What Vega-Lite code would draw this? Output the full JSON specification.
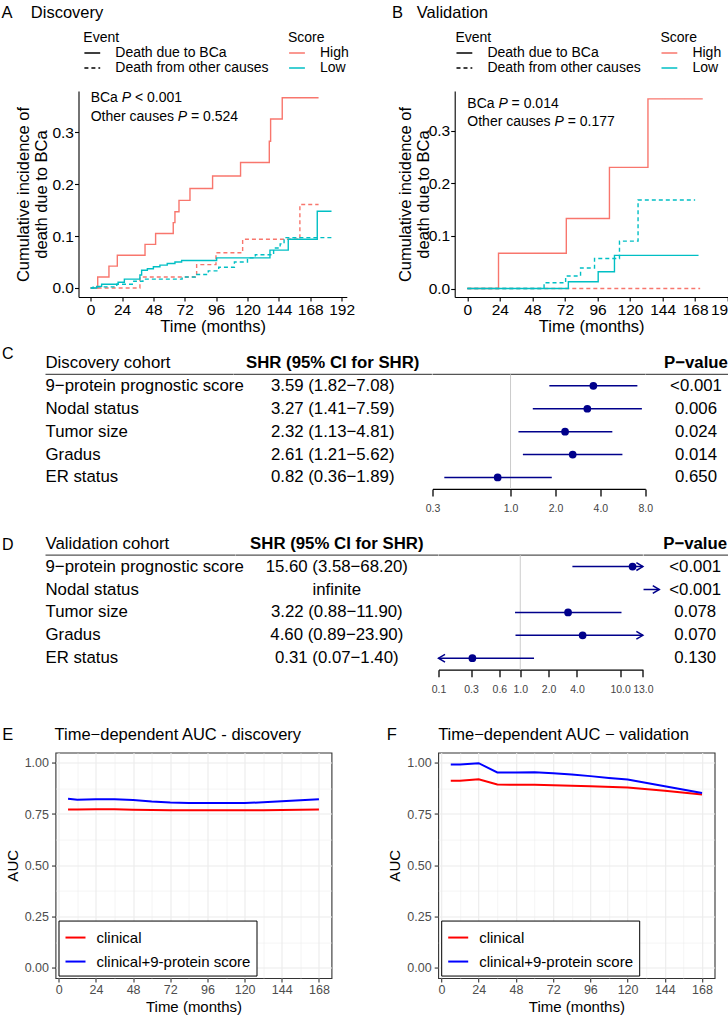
{
"$schema": "https://vega.github.io/schema/vega-lite/v6.json",
"background": "white",
"padding": {"left": 1.5, "top": 4, "right": 0, "bottom": 0},
"config": {
  "font": "Liberation Sans",
  "view": {"stroke": null},
  "title": {"font": "Liberation Sans", "fontSize": 16.5, "fontWeight": "normal", "anchor": "start", "frame": "group", "color": "black"},
  "axis": {"labelFont": "Liberation Sans", "titleFont": "Liberation Sans", "labelColor": "black", "titleColor": "black", "titleFontWeight": "normal", "domainColor": "black", "tickColor": "black", "grid": false, "labelFontSize": 15.5, "titleFontSize": 16.5, "tickSize": 4, "labelPadding": 1, "domainWidth": 1.1, "tickWidth": 1.1, "labelFlush": false, "labelOverlap": false},
  "legend": {"labelFont": "Liberation Sans", "titleFont": "Liberation Sans", "titleFontWeight": "normal", "titleFontSize": 14, "labelFontSize": 14, "titleColor": "black", "labelColor": "black", "symbolType": "stroke", "symbolStrokeWidth": 1.5, "symbolSize": 250, "labelOffset": 14, "titlePadding": 0.8, "rowPadding": 0, "padding": 0},
  "text": {"font": "Liberation Sans", "color": "black"}
},
"datasets": {
  "adata": [
    {"score":"High","event":"Death due to BCa","t":0,"ci":0},
    {"score":"High","event":"Death due to BCa","t":5.4,"ci":0.021},
    {"score":"High","event":"Death due to BCa","t":14,"ci":0.042},
    {"score":"High","event":"Death due to BCa","t":20.4,"ci":0.063},
    {"score":"High","event":"Death due to BCa","t":41.6,"ci":0.084},
    {"score":"High","event":"Death due to BCa","t":49.7,"ci":0.105},
    {"score":"High","event":"Death due to BCa","t":63.2,"ci":0.126},
    {"score":"High","event":"Death due to BCa","t":64.5,"ci":0.147},
    {"score":"High","event":"Death due to BCa","t":67.6,"ci":0.169},
    {"score":"High","event":"Death due to BCa","t":76,"ci":0.192},
    {"score":"High","event":"Death due to BCa","t":93.3,"ci":0.216},
    {"score":"High","event":"Death due to BCa","t":114.7,"ci":0.242},
    {"score":"High","event":"Death due to BCa","t":136.7,"ci":0.283},
    {"score":"High","event":"Death due to BCa","t":137.7,"ci":0.326},
    {"score":"High","event":"Death due to BCa","t":146.6,"ci":0.367},
    {"score":"High","event":"Death due to BCa","t":174.4,"ci":0.367},
    {"score":"High","event":"Death from other causes","t":0,"ci":0},
    {"score":"High","event":"Death from other causes","t":37.7,"ci":0.021},
    {"score":"High","event":"Death from other causes","t":81.1,"ci":0.045},
    {"score":"High","event":"Death from other causes","t":95.9,"ci":0.068},
    {"score":"High","event":"Death from other causes","t":116.3,"ci":0.094},
    {"score":"High","event":"Death from other causes","t":160.1,"ci":0.161},
    {"score":"High","event":"Death from other causes","t":174.4,"ci":0.161},
    {"score":"Low","event":"Death due to BCa","t":0,"ci":0},
    {"score":"Low","event":"Death due to BCa","t":4.6,"ci":0.003},
    {"score":"Low","event":"Death due to BCa","t":8.4,"ci":0.007},
    {"score":"Low","event":"Death due to BCa","t":21,"ci":0.011},
    {"score":"Low","event":"Death due to BCa","t":25.8,"ci":0.017},
    {"score":"Low","event":"Death due to BCa","t":37.7,"ci":0.025},
    {"score":"Low","event":"Death due to BCa","t":39,"ci":0.034},
    {"score":"Low","event":"Death due to BCa","t":43.4,"ci":0.037},
    {"score":"Low","event":"Death due to BCa","t":48,"ci":0.041},
    {"score":"Low","event":"Death due to BCa","t":53,"ci":0.044},
    {"score":"Low","event":"Death due to BCa","t":58.6,"ci":0.047},
    {"score":"Low","event":"Death due to BCa","t":64.5,"ci":0.05},
    {"score":"Low","event":"Death due to BCa","t":69.6,"ci":0.053},
    {"score":"Low","event":"Death due to BCa","t":96.4,"ci":0.058},
    {"score":"Low","event":"Death due to BCa","t":137.2,"ci":0.073},
    {"score":"Low","event":"Death due to BCa","t":151.2,"ci":0.094},
    {"score":"Low","event":"Death due to BCa","t":173.4,"ci":0.148},
    {"score":"Low","event":"Death due to BCa","t":184.3,"ci":0.148},
    {"score":"Low","event":"Death from other causes","t":0,"ci":0},
    {"score":"Low","event":"Death from other causes","t":2,"ci":0.002},
    {"score":"Low","event":"Death from other causes","t":20,"ci":0.007},
    {"score":"Low","event":"Death from other causes","t":33,"ci":0.013},
    {"score":"Low","event":"Death from other causes","t":40,"ci":0.017},
    {"score":"Low","event":"Death from other causes","t":70,"ci":0.021},
    {"score":"Low","event":"Death from other causes","t":80,"ci":0.026},
    {"score":"Low","event":"Death from other causes","t":90,"ci":0.033},
    {"score":"Low","event":"Death from other causes","t":98,"ci":0.04},
    {"score":"Low","event":"Death from other causes","t":110,"ci":0.05},
    {"score":"Low","event":"Death from other causes","t":120,"ci":0.058},
    {"score":"Low","event":"Death from other causes","t":126,"ci":0.064},
    {"score":"Low","event":"Death from other causes","t":140,"ci":0.077},
    {"score":"Low","event":"Death from other causes","t":145,"ci":0.085},
    {"score":"Low","event":"Death from other causes","t":148,"ci":0.097},
    {"score":"Low","event":"Death from other causes","t":184.3,"ci":0.097}
  ],
  "bdata": [
    {"score":"High","event":"Death from other causes","t":0,"ci":0},
    {"score":"High","event":"Death from other causes","t":171.7,"ci":0},
    {"score":"High","event":"Death due to BCa","t":0,"ci":0},
    {"score":"High","event":"Death due to BCa","t":23,"ci":0.067},
    {"score":"High","event":"Death due to BCa","t":73,"ci":0.133},
    {"score":"High","event":"Death due to BCa","t":104.8,"ci":0.23},
    {"score":"High","event":"Death due to BCa","t":133.2,"ci":0.36},
    {"score":"High","event":"Death due to BCa","t":173.6,"ci":0.36},
    {"score":"Low","event":"Death due to BCa","t":0,"ci":0},
    {"score":"Low","event":"Death due to BCa","t":74.5,"ci":0.013},
    {"score":"Low","event":"Death due to BCa","t":96.5,"ci":0.032},
    {"score":"Low","event":"Death due to BCa","t":108.5,"ci":0.063},
    {"score":"Low","event":"Death due to BCa","t":170.5,"ci":0.063},
    {"score":"Low","event":"Death from other causes","t":0,"ci":0},
    {"score":"Low","event":"Death from other causes","t":56.6,"ci":0.011},
    {"score":"Low","event":"Death from other causes","t":72.5,"ci":0.024},
    {"score":"Low","event":"Death from other causes","t":83.5,"ci":0.039},
    {"score":"Low","event":"Death from other causes","t":93.8,"ci":0.057},
    {"score":"Low","event":"Death from other causes","t":112.2,"ci":0.09},
    {"score":"Low","event":"Death from other causes","t":125.9,"ci":0.168},
    {"score":"Low","event":"Death from other causes","t":168,"ci":0.168}
  ],
  "cdata": [
    {"row":1,"item":"9−protein prognostic score","est":"3.59 (1.82−7.08)","shr":3.59,"lo":1.82,"hi":7.08,"p":"<0.001"},
    {"row":2,"item":"Nodal status","est":"3.27 (1.41−7.59)","shr":3.27,"lo":1.41,"hi":7.59,"p":"0.006"},
    {"row":3,"item":"Tumor size","est":"2.32 (1.13−4.81)","shr":2.32,"lo":1.13,"hi":4.81,"p":"0.024"},
    {"row":4,"item":"Gradus","est":"2.61 (1.21−5.62)","shr":2.61,"lo":1.21,"hi":5.62,"p":"0.014"},
    {"row":5,"item":"ER status","est":"0.82 (0.36−1.89)","shr":0.82,"lo":0.36,"hi":1.89,"p":"0.650"}
  ],
  "ddata": [
    {"row":1,"item":"9−protein prognostic score","est":"15.60 (3.58−68.20)","shr":15.6,"lo":3.58,"hi":68.2,"p":"<0.001","arrow_from":null,"arrow_to":null},
    {"row":2,"item":"Nodal status","est":"infinite","shr":null,"lo":null,"hi":null,"p":"<0.001","arrow_from":20.4,"arrow_to":30},
    {"row":3,"item":"Tumor size","est":"3.22 (0.88−11.90)","shr":3.22,"lo":0.88,"hi":11.9,"p":"0.078","arrow_from":null,"arrow_to":null},
    {"row":4,"item":"Gradus","est":"4.60 (0.89−23.90)","shr":4.6,"lo":0.89,"hi":23.9,"p":"0.070","arrow_from":null,"arrow_to":null},
    {"row":5,"item":"ER status","est":"0.31 (0.07−1.40)","shr":0.31,"lo":0.07,"hi":1.4,"p":"0.130","arrow_from":null,"arrow_to":null}
  ],
  "edata": [
    {"model":"clinical","t":6,"auc":0.772},{"model":"clinical","t":12,"auc":0.772},{"model":"clinical","t":24,"auc":0.773},{"model":"clinical","t":36,"auc":0.773},{"model":"clinical","t":48,"auc":0.771},{"model":"clinical","t":60,"auc":0.77},{"model":"clinical","t":72,"auc":0.768},{"model":"clinical","t":84,"auc":0.768},{"model":"clinical","t":96,"auc":0.768},{"model":"clinical","t":108,"auc":0.768},{"model":"clinical","t":120,"auc":0.768},{"model":"clinical","t":132,"auc":0.769},{"model":"clinical","t":144,"auc":0.77},{"model":"clinical","t":156,"auc":0.771},{"model":"clinical","t":168,"auc":0.772},
    {"model":"clinical+9-protein score","t":6,"auc":0.825},{"model":"clinical+9-protein score","t":12,"auc":0.82},{"model":"clinical+9-protein score","t":24,"auc":0.822},{"model":"clinical+9-protein score","t":36,"auc":0.822},{"model":"clinical+9-protein score","t":48,"auc":0.819},{"model":"clinical+9-protein score","t":60,"auc":0.811},{"model":"clinical+9-protein score","t":72,"auc":0.806},{"model":"clinical+9-protein score","t":84,"auc":0.804},{"model":"clinical+9-protein score","t":96,"auc":0.804},{"model":"clinical+9-protein score","t":108,"auc":0.804},{"model":"clinical+9-protein score","t":120,"auc":0.804},{"model":"clinical+9-protein score","t":132,"auc":0.807},{"model":"clinical+9-protein score","t":144,"auc":0.812},{"model":"clinical+9-protein score","t":156,"auc":0.817},{"model":"clinical+9-protein score","t":168,"auc":0.822}
  ],
  "fdata": [
    {"model":"clinical","t":6,"auc":0.912},{"model":"clinical","t":12,"auc":0.913},{"model":"clinical","t":24,"auc":0.92},{"model":"clinical","t":36,"auc":0.894},{"model":"clinical","t":48,"auc":0.893},{"model":"clinical","t":60,"auc":0.893},{"model":"clinical","t":72,"auc":0.891},{"model":"clinical","t":96,"auc":0.886},{"model":"clinical","t":120,"auc":0.879},{"model":"clinical","t":144,"auc":0.864},{"model":"clinical","t":168,"auc":0.845},
    {"model":"clinical+9-protein score","t":6,"auc":0.992},{"model":"clinical+9-protein score","t":12,"auc":0.992},{"model":"clinical+9-protein score","t":24,"auc":0.998},{"model":"clinical+9-protein score","t":36,"auc":0.953},{"model":"clinical+9-protein score","t":48,"auc":0.953},{"model":"clinical+9-protein score","t":60,"auc":0.954},{"model":"clinical+9-protein score","t":72,"auc":0.949},{"model":"clinical+9-protein score","t":84,"auc":0.943},{"model":"clinical+9-protein score","t":96,"auc":0.935},{"model":"clinical+9-protein score","t":108,"auc":0.926},{"model":"clinical+9-protein score","t":120,"auc":0.918},{"model":"clinical+9-protein score","t":144,"auc":0.886},{"model":"clinical+9-protein score","t":168,"auc":0.853}
  ]
},
"columns": 1,
"align": "none",
"spacing": 10.5,
"resolve": {"scale": {"color": "independent", "strokeDash": "independent"}},
"concat": [
 {"hconcat": [
  {"width": 77, "height": 1, "data": {"values": []}, "mark": "point"},
  {"hconcat": [
  {"width": 268.3, "height": 206,
   "title": {"text": "A\u00a0\u00a0\u00a0\u00a0Discovery", "dx": -77, "offset": 10},
   "layer": [
    {"data": {"name": "adata"},
     "mark": {"type": "line", "interpolate": "step-after", "strokeWidth": 1.4},
     "encoding": {
      "x": {"field": "t", "type": "quantitative", "scale": {"domain": [-9.3, 196], "nice": false, "zero": false}, "axis": {"values": [0,24,48,72,96,120,144,168,192], "labelOverlap": false, "title": "Time (months)", "titlePadding": 0.5}},
      "y": {"field": "ci", "type": "quantitative", "scale": {"domain": [-0.0175, 0.38], "nice": false, "zero": false}, "axis": {"values": [0,0.1,0.2,0.3], "labelOverlap": false, "format": ".1f", "title": ["Cumulative incidence of", "death due to BCa"], "titlePadding": 2, "titleLineHeight": 18}},
      "color": {"field": "score", "type": "nominal", "scale": {"domain": ["High","Low"], "range": ["#F8766D","#00BFC4"]}, "legend": {"title": "Score", "orient": "none", "legendX": 209.5, "legendY": -59.6, "clipHeight": 13.5, "rowPadding": 0}},
      "strokeDash": {"field": "event", "type": "nominal", "scale": {"domain": ["Death due to BCa","Death from other causes"], "range": [[1,0],[4,3]]}, "legend": {"title": "Event", "orient": "none", "legendX": 4.8, "legendY": -59.6, "symbolStrokeColor": "black", "clipHeight": 13.5, "rowPadding": 0}}
     }},
    {"data": {"values": [{}]}, "mark": {"type": "text", "align": "left", "fontSize": 14, "text": "BCa"}, "encoding": {"x": {"datum": 0, "type": "quantitative", "axis": {"values": [0,24,48,72,96,120,144,168,192], "labelOverlap": false, "title": "Time (months)", "titlePadding": 0.5}}, "y": {"datum": 0.367, "type": "quantitative", "axis": {"values": [0,0.1,0.2,0.3], "labelOverlap": false, "format": ".1f", "title": ["Cumulative incidence of", "death due to BCa"], "titlePadding": 2, "titleLineHeight": 18}}}},
    {"data": {"values": [{}]}, "mark": {"type": "text", "align": "left", "fontSize": 14, "fontStyle": "italic", "dx": 31.1, "text": "P"}, "encoding": {"x": {"datum": 0, "type": "quantitative", "axis": {"values": [0,24,48,72,96,120,144,168,192], "labelOverlap": false, "title": "Time (months)", "titlePadding": 0.5}}, "y": {"datum": 0.367, "type": "quantitative", "axis": {"values": [0,0.1,0.2,0.3], "labelOverlap": false, "format": ".1f", "title": ["Cumulative incidence of", "death due to BCa"], "titlePadding": 2, "titleLineHeight": 18}}}},
    {"data": {"values": [{}]}, "mark": {"type": "text", "align": "left", "fontSize": 14, "dx": 44.3, "text": "< 0.001"}, "encoding": {"x": {"datum": 0, "type": "quantitative", "axis": {"values": [0,24,48,72,96,120,144,168,192], "labelOverlap": false, "title": "Time (months)", "titlePadding": 0.5}}, "y": {"datum": 0.367, "type": "quantitative", "axis": {"values": [0,0.1,0.2,0.3], "labelOverlap": false, "format": ".1f", "title": ["Cumulative incidence of", "death due to BCa"], "titlePadding": 2, "titleLineHeight": 18}}}},
    {"data": {"values": [{}]}, "mark": {"type": "text", "align": "left", "fontSize": 14, "text": "Other causes"}, "encoding": {"x": {"datum": 0, "type": "quantitative", "axis": {"values": [0,24,48,72,96,120,144,168,192], "labelOverlap": false, "title": "Time (months)", "titlePadding": 0.5}}, "y": {"datum": 0.33, "type": "quantitative", "axis": {"values": [0,0.1,0.2,0.3], "labelOverlap": false, "format": ".1f", "title": ["Cumulative incidence of", "death due to BCa"], "titlePadding": 2, "titleLineHeight": 18}}}},
    {"data": {"values": [{}]}, "mark": {"type": "text", "align": "left", "fontSize": 14, "fontStyle": "italic", "dx": 87.2, "text": "P"}, "encoding": {"x": {"datum": 0, "type": "quantitative", "axis": {"values": [0,24,48,72,96,120,144,168,192], "labelOverlap": false, "title": "Time (months)", "titlePadding": 0.5}}, "y": {"datum": 0.33, "type": "quantitative", "axis": {"values": [0,0.1,0.2,0.3], "labelOverlap": false, "format": ".1f", "title": ["Cumulative incidence of", "death due to BCa"], "titlePadding": 2, "titleLineHeight": 18}}}},
    {"data": {"values": [{}]}, "mark": {"type": "text", "align": "left", "fontSize": 14, "dx": 100.4, "text": "= 0.524"}, "encoding": {"x": {"datum": 0, "type": "quantitative", "axis": {"values": [0,24,48,72,96,120,144,168,192], "labelOverlap": false, "title": "Time (months)", "titlePadding": 0.5}}, "y": {"datum": 0.33, "type": "quantitative", "axis": {"values": [0,0.1,0.2,0.3], "labelOverlap": false, "format": ".1f", "title": ["Cumulative incidence of", "death due to BCa"], "titlePadding": 2, "titleLineHeight": 18}}}}
   ]},
  {"width": 273, "height": 206,
   "title": {"text": "B\u00a0\u00a0\u00a0Validation", "dx": -62.7, "offset": 10},
   "layer": [
    {"data": {"name": "bdata"},
     "mark": {"type": "line", "interpolate": "step-after", "strokeWidth": 1.4},
     "encoding": {
      "x": {"field": "t", "type": "quantitative", "scale": {"domain": [-9.3, 192], "nice": false, "zero": false}, "axis": {"values": [0,24,48,72,96,120,144,168,192], "labelOverlap": false, "title": "Time (months)", "titlePadding": 0.5, "labelFlush": true, "labelExpr": "datum.value === 192 ? '19' : datum.label"}},
      "y": {"field": "ci", "type": "quantitative", "scale": {"domain": [-0.016, 0.375], "nice": false, "zero": false}, "axis": {"values": [0,0.1,0.2,0.3], "labelOverlap": false, "format": ".1f", "title": ["Cumulative incidence of", "death due to BCa"], "titlePadding": -3, "titleLineHeight": 18}},
      "color": {"field": "score", "type": "nominal", "scale": {"domain": ["High","Low"], "range": ["#F8766D","#00BFC4"]}, "legend": {"title": "Score", "orient": "none", "legendX": 205.7, "legendY": -59.6, "clipHeight": 13.5, "rowPadding": 0}},
      "strokeDash": {"field": "event", "type": "nominal", "scale": {"domain": ["Death due to BCa","Death from other causes"], "range": [[1,0],[4,3]]}, "legend": {"title": "Event", "orient": "none", "legendX": 0.7, "legendY": -59.6, "symbolStrokeColor": "black", "clipHeight": 13.5, "rowPadding": 0}}
     }},
    {"data": {"values": [{}]}, "mark": {"type": "text", "align": "left", "fontSize": 14, "text": "BCa"}, "encoding": {"x": {"datum": 0, "type": "quantitative", "axis": {"values": [0,24,48,72,96,120,144,168,192], "labelOverlap": false, "title": "Time (months)", "titlePadding": 0.5, "labelFlush": true, "labelExpr": "datum.value === 192 ? '19' : datum.label"}}, "y": {"datum": 0.35, "type": "quantitative", "axis": {"values": [0,0.1,0.2,0.3], "labelOverlap": false, "format": ".1f", "title": ["Cumulative incidence of", "death due to BCa"], "titlePadding": -3, "titleLineHeight": 18}}}},
    {"data": {"values": [{}]}, "mark": {"type": "text", "align": "left", "fontSize": 14, "fontStyle": "italic", "dx": 31.1, "text": "P"}, "encoding": {"x": {"datum": 0, "type": "quantitative", "axis": {"values": [0,24,48,72,96,120,144,168,192], "labelOverlap": false, "title": "Time (months)", "titlePadding": 0.5, "labelFlush": true, "labelExpr": "datum.value === 192 ? '19' : datum.label"}}, "y": {"datum": 0.35, "type": "quantitative", "axis": {"values": [0,0.1,0.2,0.3], "labelOverlap": false, "format": ".1f", "title": ["Cumulative incidence of", "death due to BCa"], "titlePadding": -3, "titleLineHeight": 18}}}},
    {"data": {"values": [{}]}, "mark": {"type": "text", "align": "left", "fontSize": 14, "dx": 44.3, "text": "= 0.014"}, "encoding": {"x": {"datum": 0, "type": "quantitative", "axis": {"values": [0,24,48,72,96,120,144,168,192], "labelOverlap": false, "title": "Time (months)", "titlePadding": 0.5, "labelFlush": true, "labelExpr": "datum.value === 192 ? '19' : datum.label"}}, "y": {"datum": 0.35, "type": "quantitative", "axis": {"values": [0,0.1,0.2,0.3], "labelOverlap": false, "format": ".1f", "title": ["Cumulative incidence of", "death due to BCa"], "titlePadding": -3, "titleLineHeight": 18}}}},
    {"data": {"values": [{}]}, "mark": {"type": "text", "align": "left", "fontSize": 14, "text": "Other causes"}, "encoding": {"x": {"datum": 0, "type": "quantitative", "axis": {"values": [0,24,48,72,96,120,144,168,192], "labelOverlap": false, "title": "Time (months)", "titlePadding": 0.5, "labelFlush": true, "labelExpr": "datum.value === 192 ? '19' : datum.label"}}, "y": {"datum": 0.317, "type": "quantitative", "axis": {"values": [0,0.1,0.2,0.3], "labelOverlap": false, "format": ".1f", "title": ["Cumulative incidence of", "death due to BCa"], "titlePadding": -3, "titleLineHeight": 18}}}},
    {"data": {"values": [{}]}, "mark": {"type": "text", "align": "left", "fontSize": 14, "fontStyle": "italic", "dx": 87.2, "text": "P"}, "encoding": {"x": {"datum": 0, "type": "quantitative", "axis": {"values": [0,24,48,72,96,120,144,168,192], "labelOverlap": false, "title": "Time (months)", "titlePadding": 0.5, "labelFlush": true, "labelExpr": "datum.value === 192 ? '19' : datum.label"}}, "y": {"datum": 0.317, "type": "quantitative", "axis": {"values": [0,0.1,0.2,0.3], "labelOverlap": false, "format": ".1f", "title": ["Cumulative incidence of", "death due to BCa"], "titlePadding": -3, "titleLineHeight": 18}}}},
    {"data": {"values": [{}]}, "mark": {"type": "text", "align": "left", "fontSize": 14, "dx": 100.4, "text": "= 0.177"}, "encoding": {"x": {"datum": 0, "type": "quantitative", "axis": {"values": [0,24,48,72,96,120,144,168,192], "labelOverlap": false, "title": "Time (months)", "titlePadding": 0.5, "labelFlush": true, "labelExpr": "datum.value === 192 ? '19' : datum.label"}}, "y": {"datum": 0.317, "type": "quantitative", "axis": {"values": [0,0.1,0.2,0.3], "labelOverlap": false, "format": ".1f", "title": ["Cumulative incidence of", "death due to BCa"], "titlePadding": -3, "titleLineHeight": 18}}}}
   ]}
  ], "spacing": 107.2, "bounds": "flush", "resolve": {"scale": {"color": "independent", "strokeDash": "independent"}}}
 ], "spacing": 0, "bounds": "flush", "resolve": {"scale": {"color": "independent", "strokeDash": "independent"}}},
 {"columns": 1, "align": "none", "spacing": 17.75, "resolve": {"scale": {"color": "independent", "strokeDash": "independent"}}, "concat": [
  {"hconcat": [
   {"width": 43.5, "height": 1, "data": {"values": []}, "mark": "point"},
   {"width": 187.8, "height": 137.4,
    "title": {"text": "C", "dx": -43.5, "offset": -10, "fontSize": 16},
    "layer": [
     {"data": {"values": [{}]}, "mark": {"type": "rule", "stroke": "#555555", "strokeWidth": 1.3}, "encoding": {"y": {"datum": 0.5, "type": "quantitative", "scale": {"domain": [-0.5, 5.5], "reverse": true, "nice": false, "zero": false}, "axis": null}}},
     {"data": {"values": [{}]}, "mark": {"type": "text", "align": "left", "fontSize": 16.8, "text": "Discovery cohort"}, "encoding": {"x": {"datum": 0, "type": "quantitative", "scale": {"domain": [0, 1]}, "axis": null}, "y": {"datum": 0, "type": "quantitative", "scale": {"domain": [-0.5, 5.5], "reverse": true, "nice": false, "zero": false}, "axis": null}}},
     {"data": {"name": "cdata"}, "mark": {"type": "text", "align": "left", "fontSize": 16.8}, "encoding": {"x": {"datum": 0, "type": "quantitative", "scale": {"domain": [0, 1]}, "axis": null}, "y": {"field": "row", "type": "quantitative", "scale": {"domain": [-0.5, 5.5], "reverse": true, "nice": false, "zero": false}, "axis": null}, "text": {"field": "item"}}}
    ]},
   {"width": 198.4, "height": 137.4,
    "layer": [
     {"data": {"values": [{}]}, "mark": {"type": "rule", "stroke": "#555555", "strokeWidth": 1.3}, "encoding": {"y": {"datum": 0.5, "type": "quantitative", "scale": {"domain": [-0.5, 5.5], "reverse": true, "nice": false, "zero": false}, "axis": null}}},
     {"data": {"values": [{}]}, "mark": {"type": "text", "align": "center", "fontSize": 16.8, "fontWeight": "bold", "text": "SHR (95% CI for SHR)"}, "encoding": {"x": {"datum": 0.5, "type": "quantitative", "scale": {"domain": [0, 1]}, "axis": null}, "y": {"datum": 0, "type": "quantitative", "scale": {"domain": [-0.5, 5.5], "reverse": true, "nice": false, "zero": false}, "axis": null}}},
     {"data": {"name": "cdata"}, "mark": {"type": "text", "align": "center", "fontSize": 16.8}, "encoding": {"x": {"datum": 0.5, "type": "quantitative", "scale": {"domain": [0, 1]}, "axis": null}, "y": {"field": "row", "type": "quantitative", "scale": {"domain": [-0.5, 5.5], "reverse": true, "nice": false, "zero": false}, "axis": null}, "text": {"field": "est"}}}
    ]},
   {"width": 212.8, "height": 137.4,
    "layer": [
     {"data": {"values": [{}]}, "mark": {"type": "rule", "stroke": "#555555", "strokeWidth": 1.3}, "encoding": {"y": {"datum": 0.5, "type": "quantitative", "scale": {"domain": [-0.5, 5.5], "reverse": true, "nice": false, "zero": false}, "axis": null}}},
     {"data": {"values": [{}]}, "mark": {"type": "rule", "stroke": "#cccccc", "strokeWidth": 1}, "encoding": {
       "x": {"datum": 1, "type": "quantitative", "scale": {"type": "log", "domain": [0.3, 8], "nice": false}, "axis": {"values": [0.3,1,2,4,8], "format": ".1f", "title": null, "labelFontSize": 10.5, "labelColor": "#444444", "tickSize": 7, "labelPadding": 7.5, "domainWidth": 1.3, "tickWidth": 1.3, "labelFlush": false, "labelOverlap": false}},
       "y": {"datum": 0.5, "type": "quantitative", "scale": {"domain": [-0.5, 5.5], "reverse": true, "nice": false, "zero": false}, "axis": null}, "y2": {"datum": 5.5}}},
     {"data": {"name": "cdata"}, "mark": {"type": "rule", "stroke": "#00008B", "strokeWidth": 1.5}, "encoding": {
       "x": {"field": "lo", "type": "quantitative", "scale": {"type": "log", "domain": [0.3, 8], "nice": false}, "axis": {"values": [0.3,1,2,4,8], "format": ".1f", "title": null, "labelFontSize": 10.5, "labelColor": "#444444", "tickSize": 7, "labelPadding": 7.5, "domainWidth": 1.3, "tickWidth": 1.3, "labelFlush": false, "labelOverlap": false}},
       "x2": {"field": "hi"},
       "y": {"field": "row", "type": "quantitative", "scale": {"domain": [-0.5, 5.5], "reverse": true, "nice": false, "zero": false}, "axis": null}}},
     {"data": {"name": "cdata"}, "mark": {"type": "point", "filled": true, "size": 60, "color": "#00008B", "opacity": 1}, "encoding": {
       "x": {"field": "shr", "type": "quantitative", "scale": {"type": "log", "domain": [0.3, 8], "nice": false}, "axis": {"values": [0.3,1,2,4,8], "format": ".1f", "title": null, "labelFontSize": 10.5, "labelColor": "#444444", "tickSize": 7, "labelPadding": 7.5, "domainWidth": 1.3, "tickWidth": 1.3, "labelFlush": false, "labelOverlap": false}},
       "y": {"field": "row", "type": "quantitative", "scale": {"domain": [-0.5, 5.5], "reverse": true, "nice": false, "zero": false}, "axis": null}}}
    ]},
   {"width": 83, "height": 137.4,
    "layer": [
     {"data": {"values": [{}]}, "mark": {"type": "rule", "stroke": "#555555", "strokeWidth": 1.3}, "encoding": {"y": {"datum": 0.5, "type": "quantitative", "scale": {"domain": [-0.5, 5.5], "reverse": true, "nice": false, "zero": false}, "axis": null}}},
     {"data": {"values": [{}]}, "mark": {"type": "text", "align": "center", "fontSize": 16.8, "fontWeight": "bold", "dx": 9, "text": "P−value"}, "encoding": {"x": {"datum": 0.5, "type": "quantitative", "scale": {"domain": [0, 1]}, "axis": null}, "y": {"datum": 0, "type": "quantitative", "scale": {"domain": [-0.5, 5.5], "reverse": true, "nice": false, "zero": false}, "axis": null}}},
     {"data": {"name": "cdata"}, "mark": {"type": "text", "align": "center", "fontSize": 16.8, "dx": 9}, "encoding": {"x": {"datum": 0.5, "type": "quantitative", "scale": {"domain": [0, 1]}, "axis": null}, "y": {"field": "row", "type": "quantitative", "scale": {"domain": [-0.5, 5.5], "reverse": true, "nice": false, "zero": false}, "axis": null}, "text": {"field": "p"}}}
    ]}
  ], "spacing": 0, "bounds": "flush"},
  {"columns": 1, "align": "none", "spacing": 30.3, "resolve": {"scale": {"color": "independent", "strokeDash": "independent"}}, "concat": [
   {"hconcat": [
    {"width": 43.5, "height": 1, "data": {"values": []}, "mark": "point"},
    {"width": 189.7, "height": 137.4,
     "title": {"text": "D", "dx": -43.5, "offset": -21, "fontSize": 16},
     "layer": [
      {"data": {"values": [{}]}, "mark": {"type": "rule", "stroke": "#555555", "strokeWidth": 1.3}, "encoding": {"y": {"datum": 0.5, "type": "quantitative", "scale": {"domain": [-0.5, 5.5], "reverse": true, "nice": false, "zero": false}, "axis": null}}},
      {"data": {"values": [{}]}, "mark": {"type": "text", "align": "left", "fontSize": 16.8, "text": "Validation cohort"}, "encoding": {"x": {"datum": 0, "type": "quantitative", "scale": {"domain": [0, 1]}, "axis": null}, "y": {"datum": 0, "type": "quantitative", "scale": {"domain": [-0.5, 5.5], "reverse": true, "nice": false, "zero": false}, "axis": null}}},
      {"data": {"name": "ddata"}, "mark": {"type": "text", "align": "left", "fontSize": 16.8}, "encoding": {"x": {"datum": 0, "type": "quantitative", "scale": {"domain": [0, 1]}, "axis": null}, "y": {"field": "row", "type": "quantitative", "scale": {"domain": [-0.5, 5.5], "reverse": true, "nice": false, "zero": false}, "axis": null}, "text": {"field": "item"}}}
     ]},
    {"width": 202.6, "height": 137.4,
     "layer": [
      {"data": {"values": [{}]}, "mark": {"type": "rule", "stroke": "#555555", "strokeWidth": 1.3}, "encoding": {"y": {"datum": 0.5, "type": "quantitative", "scale": {"domain": [-0.5, 5.5], "reverse": true, "nice": false, "zero": false}, "axis": null}}},
      {"data": {"values": [{}]}, "mark": {"type": "text", "align": "center", "fontSize": 16.8, "fontWeight": "bold", "text": "SHR (95% CI for SHR)"}, "encoding": {"x": {"datum": 0.5, "type": "quantitative", "scale": {"domain": [0, 1]}, "axis": null}, "y": {"datum": 0, "type": "quantitative", "scale": {"domain": [-0.5, 5.5], "reverse": true, "nice": false, "zero": false}, "axis": null}}},
      {"data": {"name": "ddata"}, "mark": {"type": "text", "align": "center", "fontSize": 16.8}, "encoding": {"x": {"datum": 0.5, "type": "quantitative", "scale": {"domain": [0, 1]}, "axis": null}, "y": {"field": "row", "type": "quantitative", "scale": {"domain": [-0.5, 5.5], "reverse": true, "nice": false, "zero": false}, "axis": null}, "text": {"field": "est"}}}
     ]},
    {"width": 204.4, "height": 137.4,
     "layer": [
      {"data": {"values": [{}]}, "mark": {"type": "rule", "stroke": "#555555", "strokeWidth": 1.3}, "encoding": {"y": {"datum": 0.5, "type": "quantitative", "scale": {"domain": [-0.5, 5.5], "reverse": true, "nice": false, "zero": false}, "axis": null}}},
      {"data": {"values": [{}]}, "mark": {"type": "rule", "stroke": "#cccccc", "strokeWidth": 1}, "encoding": {
        "x": {"datum": 1, "type": "quantitative", "scale": {"type": "log", "domain": [0.1353, 20.09], "nice": false}, "axis": {"values": [0.1353,0.3,0.6,1,2,4,11.5,20.09], "labelExpr": "datum.value < 0.2 ? '0.1' : datum.value > 15 ? '13.0' : datum.value > 10 ? '10.0' : format(datum.value, '.1f')", "title": null, "labelFontSize": 10.5, "labelColor": "#444444", "tickSize": 7, "labelPadding": 7.5, "domainWidth": 1.3, "tickWidth": 1.3, "labelFlush": false, "labelOverlap": false}},
        "y": {"datum": 0.5, "type": "quantitative", "scale": {"domain": [-0.5, 5.5], "reverse": true, "nice": false, "zero": false}, "axis": null}, "y2": {"datum": 5.5}}},
      {"data": {"name": "ddata"}, "transform": [{"filter": "isValid(datum.lo)"}], "mark": {"type": "rule", "stroke": "#00008B", "strokeWidth": 1.5, "clip": true}, "encoding": {
        "x": {"field": "lo", "type": "quantitative", "scale": {"type": "log", "domain": [0.1353, 20.09], "nice": false}, "axis": {"values": [0.1353,0.3,0.6,1,2,4,11.5,20.09], "labelExpr": "datum.value < 0.2 ? '0.1' : datum.value > 15 ? '13.0' : datum.value > 10 ? '10.0' : format(datum.value, '.1f')", "title": null, "labelFontSize": 10.5, "labelColor": "#444444", "tickSize": 7, "labelPadding": 7.5, "domainWidth": 1.3, "tickWidth": 1.3, "labelFlush": false, "labelOverlap": false}},
        "x2": {"field": "hi"},
        "y": {"field": "row", "type": "quantitative", "scale": {"domain": [-0.5, 5.5], "reverse": true, "nice": false, "zero": false}, "axis": null}}},
      {"data": {"name": "ddata"}, "transform": [{"filter": "isValid(datum.shr)"}], "mark": {"type": "point", "filled": true, "size": 60, "color": "#00008B", "opacity": 1}, "encoding": {
        "x": {"field": "shr", "type": "quantitative", "scale": {"type": "log", "domain": [0.1353, 20.09], "nice": false}, "axis": {"values": [0.1353,0.3,0.6,1,2,4,11.5,20.09], "labelExpr": "datum.value < 0.2 ? '0.1' : datum.value > 15 ? '13.0' : datum.value > 10 ? '10.0' : format(datum.value, '.1f')", "title": null, "labelFontSize": 10.5, "labelColor": "#444444", "tickSize": 7, "labelPadding": 7.5, "domainWidth": 1.3, "tickWidth": 1.3, "labelFlush": false, "labelOverlap": false}},
        "y": {"field": "row", "type": "quantitative", "scale": {"domain": [-0.5, 5.5], "reverse": true, "nice": false, "zero": false}, "axis": null}}},
      {"data": {"name": "ddata"}, "transform": [{"filter": "isValid(datum.hi) && datum.hi > 20.09"}], "mark": {"type": "point", "shape": "M-1,-0.6L0,0L-1,0.6", "filled": false, "size": 170, "strokeWidth": 1.5, "color": "#00008B", "opacity": 1}, "encoding": {
        "x": {"datum": 20.09, "type": "quantitative", "scale": {"type": "log", "domain": [0.1353, 20.09], "nice": false}, "axis": {"values": [0.1353,0.3,0.6,1,2,4,11.5,20.09], "labelExpr": "datum.value < 0.2 ? '0.1' : datum.value > 15 ? '13.0' : datum.value > 10 ? '10.0' : format(datum.value, '.1f')", "title": null, "labelFontSize": 10.5, "labelColor": "#444444", "tickSize": 7, "labelPadding": 7.5, "domainWidth": 1.3, "tickWidth": 1.3, "labelFlush": false, "labelOverlap": false}},
        "y": {"field": "row", "type": "quantitative", "scale": {"domain": [-0.5, 5.5], "reverse": true, "nice": false, "zero": false}, "axis": null}}},
      {"data": {"name": "ddata"}, "transform": [{"filter": "isValid(datum.lo) && datum.lo < 0.1353"}], "mark": {"type": "point", "shape": "M1,-0.6L0,0L1,0.6", "filled": false, "size": 170, "strokeWidth": 1.5, "color": "#00008B", "opacity": 1}, "encoding": {
        "x": {"datum": 0.1353, "type": "quantitative", "scale": {"type": "log", "domain": [0.1353, 20.09], "nice": false}, "axis": {"values": [0.1353,0.3,0.6,1,2,4,11.5,20.09], "labelExpr": "datum.value < 0.2 ? '0.1' : datum.value > 15 ? '13.0' : datum.value > 10 ? '10.0' : format(datum.value, '.1f')", "title": null, "labelFontSize": 10.5, "labelColor": "#444444", "tickSize": 7, "labelPadding": 7.5, "domainWidth": 1.3, "tickWidth": 1.3, "labelFlush": false, "labelOverlap": false}},
        "y": {"field": "row", "type": "quantitative", "scale": {"domain": [-0.5, 5.5], "reverse": true, "nice": false, "zero": false}, "axis": null}}},
      {"data": {"name": "ddata"}, "transform": [{"filter": "isValid(datum.arrow_to)"}], "mark": {"type": "rule", "stroke": "#00008B", "strokeWidth": 1.5}, "encoding": {
        "x": {"field": "arrow_from", "type": "quantitative", "scale": {"type": "log", "domain": [0.1353, 20.09], "nice": false}, "axis": {"values": [0.1353,0.3,0.6,1,2,4,11.5,20.09], "labelExpr": "datum.value < 0.2 ? '0.1' : datum.value > 15 ? '13.0' : datum.value > 10 ? '10.0' : format(datum.value, '.1f')", "title": null, "labelFontSize": 10.5, "labelColor": "#444444", "tickSize": 7, "labelPadding": 7.5, "domainWidth": 1.3, "tickWidth": 1.3, "labelFlush": false, "labelOverlap": false}},
        "x2": {"field": "arrow_to"},
        "y": {"field": "row", "type": "quantitative", "scale": {"domain": [-0.5, 5.5], "reverse": true, "nice": false, "zero": false}, "axis": null}}},
      {"data": {"name": "ddata"}, "transform": [{"filter": "isValid(datum.arrow_to)"}], "mark": {"type": "point", "shape": "M-1,-0.6L0,0L-1,0.6", "filled": false, "size": 170, "strokeWidth": 1.5, "color": "#00008B", "opacity": 1}, "encoding": {
        "x": {"field": "arrow_to", "type": "quantitative", "scale": {"type": "log", "domain": [0.1353, 20.09], "nice": false}, "axis": {"values": [0.1353,0.3,0.6,1,2,4,11.5,20.09], "labelExpr": "datum.value < 0.2 ? '0.1' : datum.value > 15 ? '13.0' : datum.value > 10 ? '10.0' : format(datum.value, '.1f')", "title": null, "labelFontSize": 10.5, "labelColor": "#444444", "tickSize": 7, "labelPadding": 7.5, "domainWidth": 1.3, "tickWidth": 1.3, "labelFlush": false, "labelOverlap": false}},
        "y": {"field": "row", "type": "quantitative", "scale": {"domain": [-0.5, 5.5], "reverse": true, "nice": false, "zero": false}, "axis": null}}}
     ]},
    {"width": 85.3, "height": 137.4,
     "layer": [
      {"data": {"values": [{}]}, "mark": {"type": "rule", "stroke": "#555555", "strokeWidth": 1.3}, "encoding": {"y": {"datum": 0.5, "type": "quantitative", "scale": {"domain": [-0.5, 5.5], "reverse": true, "nice": false, "zero": false}, "axis": null}}},
      {"data": {"values": [{}]}, "mark": {"type": "text", "align": "center", "fontSize": 16.8, "fontWeight": "bold", "dx": 9, "text": "P−value"}, "encoding": {"x": {"datum": 0.5, "type": "quantitative", "scale": {"domain": [0, 1]}, "axis": null}, "y": {"datum": 0, "type": "quantitative", "scale": {"domain": [-0.5, 5.5], "reverse": true, "nice": false, "zero": false}, "axis": null}}},
      {"data": {"name": "ddata"}, "mark": {"type": "text", "align": "center", "fontSize": 16.8, "dx": 9}, "encoding": {"x": {"datum": 0.5, "type": "quantitative", "scale": {"domain": [0, 1]}, "axis": null}, "y": {"field": "row", "type": "quantitative", "scale": {"domain": [-0.5, 5.5], "reverse": true, "nice": false, "zero": false}, "axis": null}, "text": {"field": "p"}}}
     ]}
   ], "spacing": 0, "bounds": "flush"},
   {"hconcat": [
    {"width": 53.2, "height": 1, "data": {"values": []}, "mark": "point"},
    {"hconcat": [
    {"width": 276, "height": 225.5,
     "view": {"stroke": "#333333", "strokeWidth": 1.1},
     "title": {"text": "E\u00a0\u00a0\u00a0\u00a0\u00a0\u00a0\u00a0\u00a0\u00a0Time−dependent AUC - discovery", "dx": -53.2, "offset": 9},
     "data": {"name": "edata"},
     "mark": {"type": "line", "strokeWidth": 2},
     "encoding": {
      "x": {"field": "t", "type": "quantitative", "scale": {"domain": [-2.1, 176.1], "nice": false, "zero": false},
        "axis": {"values": [0,12,24,36,48,60,72,84,96,108,120,132,144,156,168], "labelOverlap": false, "labelExpr": "datum.value % 24 === 0 ? datum.label : ''", "grid": true, "gridColor": "#ebebeb", "gridWidth": {"condition": {"test": "datum.value % 24 === 0", "value": 1.1}, "value": 0.55}, "tickOpacity": {"condition": {"test": "datum.value % 24 === 0", "value": 1}, "value": 0}, "domain": false, "tickColor": "#333333", "tickSize": 4, "labelColor": "#4d4d4d", "labelFontSize": 12.5, "titleFontSize": 15, "title": "Time (months)", "labelPadding": 1.5, "titlePadding": 3}},
      "y": {"field": "auc", "type": "quantitative", "scale": {"domain": [-0.05, 1.05], "nice": false, "zero": false},
        "axis": {"values": [0,0.125,0.25,0.375,0.5,0.625,0.75,0.875,1], "labelOverlap": false, "labelExpr": "round(datum.value*8) % 2 === 0 ? format(datum.value, '.2f') : ''", "grid": true, "gridColor": "#ebebeb", "gridWidth": {"condition": {"test": "round(datum.value*8) % 2 === 0", "value": 1.1}, "value": 0.55}, "tickOpacity": {"condition": {"test": "round(datum.value*8) % 2 === 0", "value": 1}, "value": 0}, "domain": false, "tickColor": "#333333", "tickSize": 4, "labelColor": "#4d4d4d", "labelFontSize": 12.5, "titleFontSize": 15, "title": "AUC", "labelPadding": 3, "titlePadding": 4}},
      "color": {"field": "model", "type": "nominal", "scale": {"domain": ["clinical", "clinical+9-protein score"], "range": ["#FF0000", "#0000FF"]}, "legend": {"title": null, "orient": "bottom-left", "offset": 3, "strokeColor": "black", "fillColor": "white", "padding": 6, "labelFontSize": 15, "symbolStrokeWidth": 2, "symbolSize": 400, "labelOffset": 10, "rowPadding": 5}}
     }},
    {"width": 276.4, "height": 225.5,
     "view": {"stroke": "#333333", "strokeWidth": 1.1},
     "title": {"text": "F\u00a0\u00a0\u00a0\u00a0\u00a0\u00a0\u00a0\u00a0\u00a0Time−dependent AUC − validation", "dx": -51.4, "offset": 9},
     "data": {"name": "fdata"},
     "mark": {"type": "line", "strokeWidth": 2},
     "encoding": {
      "x": {"field": "t", "type": "quantitative", "scale": {"domain": [-2.1, 176.1], "nice": false, "zero": false},
        "axis": {"values": [0,12,24,36,48,60,72,84,96,108,120,132,144,156,168], "labelOverlap": false, "labelExpr": "datum.value % 24 === 0 ? datum.label : ''", "grid": true, "gridColor": "#ebebeb", "gridWidth": {"condition": {"test": "datum.value % 24 === 0", "value": 1.1}, "value": 0.55}, "tickOpacity": {"condition": {"test": "datum.value % 24 === 0", "value": 1}, "value": 0}, "domain": false, "tickColor": "#333333", "tickSize": 4, "labelColor": "#4d4d4d", "labelFontSize": 12.5, "titleFontSize": 15, "title": "Time (months)", "labelPadding": 1.5, "titlePadding": 3}},
      "y": {"field": "auc", "type": "quantitative", "scale": {"domain": [-0.05, 1.05], "nice": false, "zero": false},
        "axis": {"values": [0,0.125,0.25,0.375,0.5,0.625,0.75,0.875,1], "labelOverlap": false, "labelExpr": "round(datum.value*8) % 2 === 0 ? format(datum.value, '.2f') : ''", "grid": true, "gridColor": "#ebebeb", "gridWidth": {"condition": {"test": "round(datum.value*8) % 2 === 0", "value": 1.1}, "value": 0.55}, "tickOpacity": {"condition": {"test": "round(datum.value*8) % 2 === 0", "value": 1}, "value": 0}, "domain": false, "tickColor": "#333333", "tickSize": 4, "labelColor": "#4d4d4d", "labelFontSize": 12.5, "titleFontSize": 15, "title": "AUC", "labelPadding": 3, "titlePadding": 4}},
      "color": {"field": "model", "type": "nominal", "scale": {"domain": ["clinical", "clinical+9-protein score"], "range": ["#FF0000", "#0000FF"]}, "legend": {"title": null, "orient": "bottom-left", "offset": 3, "strokeColor": "black", "fillColor": "white", "padding": 6, "labelFontSize": 15, "symbolStrokeWidth": 2, "symbolSize": 400, "labelOffset": 10, "rowPadding": 5}}
     }}
    ], "spacing": 106.7, "bounds": "flush", "resolve": {"scale": {"color": "independent", "strokeDash": "independent"}}}
   ], "spacing": 0, "bounds": "flush", "resolve": {"scale": {"color": "independent", "strokeDash": "independent"}}}
  ]}
 ]}
]
}
